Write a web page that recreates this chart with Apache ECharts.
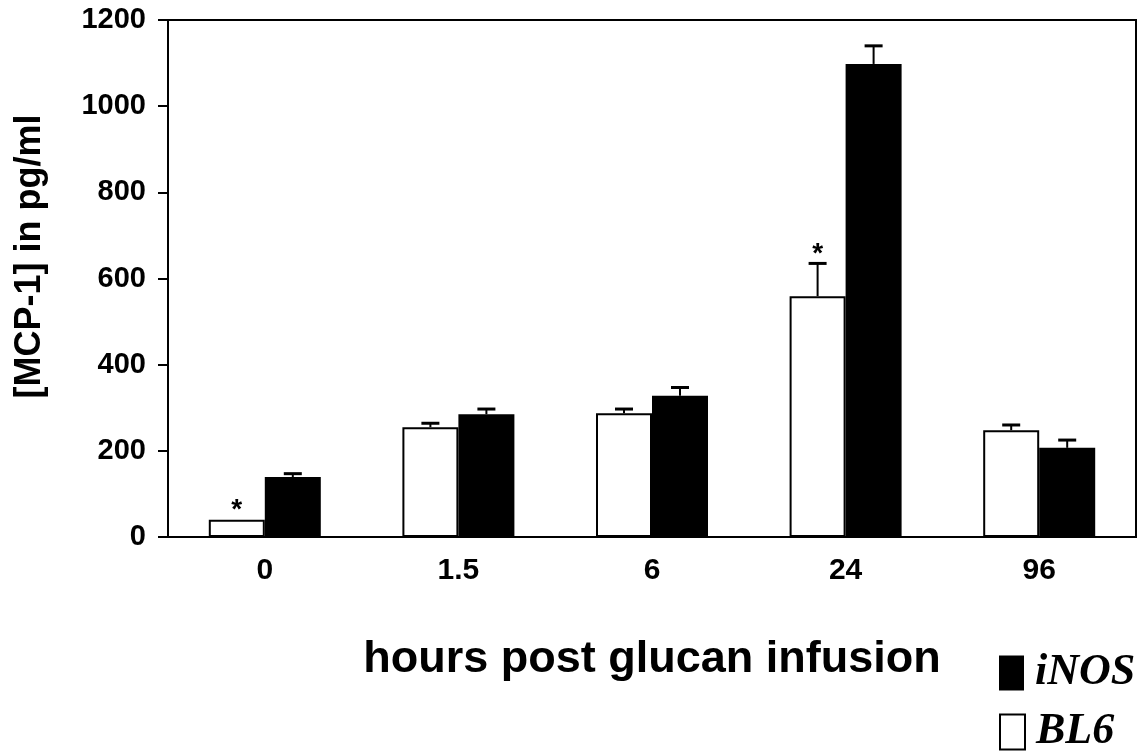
<!DOCTYPE html>
<html>
<head>
<meta charset="utf-8">
<script src="https://cdn.jsdelivr.net/npm/echarts@6/dist/echarts.min.js"></script>
<style>
html, body { margin: 0; padding: 0; background: #fff; }
#main { width: 1142px; height: 754px; }
</style>
</head>
<body>
<div id="main"></div>
<script>
// values (pg/ml)
var hours = ['0', '1.5', '6', '24', '96'];
var bl6 = [40, 255, 287, 559, 248];
var bl6Err = [0, 9, 10, 76, 12];
var inos = [139, 285, 328, 1098, 207];
var inosErr = [8, 12, 19, 42, 18];
var bl6Star = [1, 0, 0, 1, 0];
var inosStar = [0, 0, 0, 0, 0];

var sans = 'Liberation Sans, Arial, sans-serif';

function errorBars(name, vals, errs, stars, shift) {
    var data = vals.map(function (v, i) { return [i, v, errs[i], stars[i]]; });
    return {
        type: 'custom',
        name: name + ' err',
        silent: true,
        z: 5,
        data: data,
        renderItem: function (params, api) {
            var i = api.value(0), v = api.value(1), e = api.value(2);
            var base = api.coord([i, v]);
            var top = api.coord([i, v + e]);
            var x = base[0] + shift;
            var kids = [];
            if (e > 0) {
                kids.push({ type: 'line', shape: { x1: x, y1: base[1], x2: x, y2: top[1] },
                    style: { stroke: '#000', lineWidth: 2 } });
                kids.push({ type: 'line', shape: { x1: x - 9, y1: top[1], x2: x + 9, y2: top[1] },
                    style: { stroke: '#000', lineWidth: 3 } });
            }
            if (api.value(3)) {
                kids.push({ type: 'text', style: { text: '*', x: x, y: top[1] - 9,
                    align: 'center', verticalAlign: 'middle', fill: '#000',
                    font: 'bold 28px ' + sans } });
            }
            return { type: 'group', children: kids };
        }
    };
}

// one legend box per entry, stacked like the original key
function legendBox(name, top) {
    return {
        data: [name],
        left: 994,
        top: top,
        itemWidth: 25,
        itemHeight: 35,
        icon: 'rect',
        textStyle: {
            color: '#000', fontSize: 44, fontStyle: 'italic', fontWeight: 'bold',
            fontFamily: 'Liberation Serif, Times New Roman, serif',
            padding: [0, 0, 0, 6]
        }
    };
}

var myChart = echarts.init(document.getElementById('main'));
var option = {
    backgroundColor: '#fff',
    animation: false,
    grid: {
        left: 168, right: 6, top: 20, bottom: 217,
        show: true, borderColor: '#000', borderWidth: 2, backgroundColor: 'transparent'
    },
    legend: [legendBox('iNOS', 646), legendBox('BL6', 705)],
    xAxis: {
        type: 'category',
        data: hours,
        axisLine: { lineStyle: { color: '#000', width: 2 } },
        axisTick: { length: 10, lineStyle: { color: '#000', width: 2 } },
        axisLabel: { color: '#000', fontSize: 30, fontWeight: 'bold', fontFamily: sans, margin: 19 },
        name: 'hours post glucan infusion',
        nameLocation: 'middle',
        nameGap: 100,
        nameTextStyle: { color: '#000', fontSize: 45, fontWeight: 'bold', fontFamily: sans }
    },
    yAxis: {
        type: 'value',
        min: 0,
        max: 1200,
        interval: 200,
        axisLine: { show: true, lineStyle: { color: '#000', width: 2 } },
        axisTick: { show: true, length: 10, lineStyle: { color: '#000', width: 2 } },
        splitLine: { show: false },
        axisLabel: { color: '#000', fontSize: 29, fontWeight: 'bold', fontFamily: sans, margin: 22,
            formatter: function (v) { return String(v); } },
        name: '[MCP-1] in pg/ml',
        nameLocation: 'middle',
        nameGap: 120,
        nameRotate: 90,
        nameTextStyle: { color: '#000', fontSize: 36, fontWeight: 'bold', fontFamily: sans,
            padding: [0, 0, 0, 44] }
    },
    series: [
        {
            name: 'BL6',
            type: 'bar',
            data: bl6,
            barWidth: 56,
            barGap: '0%',
            itemStyle: { color: '#fff', borderColor: '#000', borderWidth: 2 }
        },
        {
            name: 'iNOS',
            type: 'bar',
            data: inos,
            barWidth: 56,
            barGap: '0%',
            itemStyle: { color: '#000', borderColor: '#000', borderWidth: 0 }
        },
        errorBars('BL6', bl6, bl6Err, bl6Star, -28),
        errorBars('iNOS', inos, inosErr, inosStar, 28)
    ]
};
myChart.setOption(option);
</script>
</body>
</html>
